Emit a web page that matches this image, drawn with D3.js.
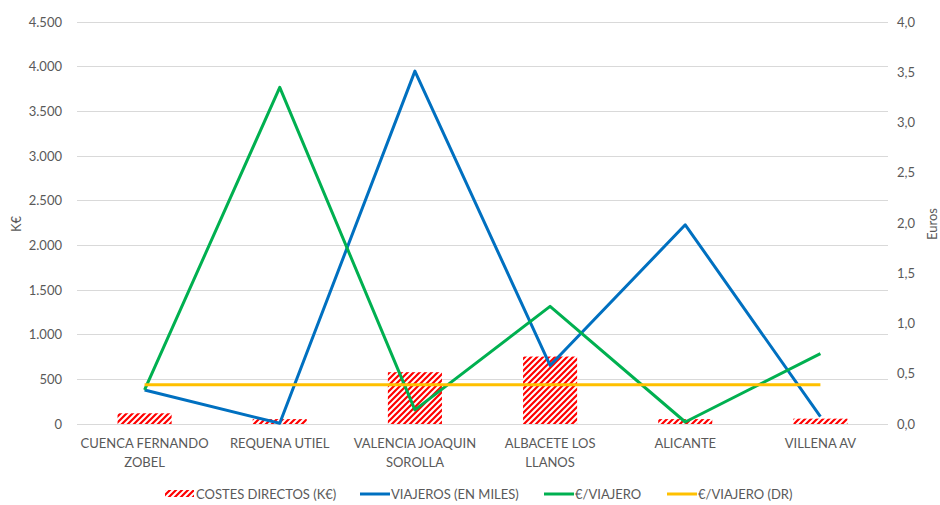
<!DOCTYPE html>
<html>
<head>
<meta charset="utf-8">
<script src="https://cdn.jsdelivr.net/npm/d3@7"></script>
<style>
  html, body { margin: 0; padding: 0; background: #fff; }
  svg text { font-family: "Lato", "Liberation Sans", sans-serif; fill: #595959; }
</style>
</head>
<body>
<svg id="chart" width="940" height="505"></svg>
<script>
// Stations (two-line category labels)
const categories = ["CUENCA FERNANDO ZOBEL", "REQUENA UTIEL", "VALENCIA JOAQUIN SOROLLA", "ALBACETE LOS LLANOS", "ALICANTE", "VILLENA AV"];
const categoryLines = [["CUENCA FERNANDO", "ZOBEL"], ["REQUENA UTIEL"], ["VALENCIA JOAQUIN", "SOROLLA"], ["ALBACETE LOS", "LLANOS"], ["ALICANTE"], ["VILLENA AV"]];

// Primary axis (K€)
const costesDirectos = [120, 55, 580, 755, 55, 60];
const viajeros = [380, 8, 3950, 655, 2230, 82];
// Secondary axis (Euros)
const euroViajero = [0.34, 3.35, 0.14, 1.17, 0.02, 0.70];
const euroViajeroDR = [0.39, 0.39, 0.39, 0.39, 0.39, 0.39];

const leftTicks = [0, 500, 1000, 1500, 2000, 2500, 3000, 3500, 4000, 4500];
const rightTicks = [0, 0.5, 1.0, 1.5, 2.0, 2.5, 3.0, 3.5, 4.0];

const seriesNames = ["COSTES DIRECTOS (K€)", "VIAJEROS (EN MILES)", "€/VIAJERO", "€/VIAJERO (DR)"];
const colors = { bar: "#ff0000", viajeros: "#0070c0", euro: "#00b050", dr: "#ffc000" };

const svg = d3.select("#chart");
const plot = { left: 77, right: 888, top: 22, bottom: 424 };

const x = d3.scaleBand().domain(categories).range([plot.left, plot.right]).paddingInner(0.6).paddingOuter(0.3);
const xc = d => x(d) + x.bandwidth() / 2;
const yL = d3.scaleLinear().domain([0, 4500]).range([plot.bottom, plot.top]);
const yR = d3.scaleLinear().domain([0, 4]).range([plot.bottom, plot.top]);

// Hatch pattern for the cost bars
const defs = svg.append("defs");
const pat = defs.append("pattern").attr("id", "hatch")
  .attr("patternUnits", "userSpaceOnUse").attr("width", 6).attr("height", 6);
pat.append("rect").attr("width", 6).attr("height", 6).attr("fill", "#fff");
pat.append("path").attr("d", "M-1,1 l2,-2 M0,6 l6,-6 M5,7 l2,-2")
  .attr("stroke", colors.bar).attr("stroke-width", 2.2);

// Gridlines
svg.append("g").selectAll("line").data(leftTicks).join("line")
  .attr("x1", plot.left).attr("x2", plot.right)
  .attr("y1", d => yL(d)).attr("y2", d => yL(d))
  .attr("stroke", "#d9d9d9").attr("stroke-width", 1).attr("shape-rendering", "crispEdges");

// Left axis
const fmtL = d3.formatLocale({ decimal: ",", thousands: ".", grouping: [3], currency: ["", "€"] });
const leftAxis = d3.axisLeft(yL).tickValues(leftTicks).tickFormat(fmtL.format(",.0f")).tickSize(0).tickPadding(15);
const gL = svg.append("g").attr("transform", `translate(${plot.left},0)`).call(leftAxis);
gL.select(".domain").remove();
gL.selectAll("text").attr("font-size", 13).style("fill", "#595959");

// Right axis
const rightAxis = d3.axisRight(yR).tickValues(rightTicks).tickFormat(fmtL.format(",.1f")).tickSize(0).tickPadding(9);
const gR = svg.append("g").attr("transform", `translate(${plot.right},0)`).call(rightAxis);
gR.select(".domain").remove();
gR.selectAll("text").attr("font-size", 13).style("fill", "#595959");

// Category labels
const gx = svg.append("g");
categories.forEach((c, i) => {
  const t = gx.append("text").attr("x", xc(c)).attr("y", 448).attr("text-anchor", "middle").attr("font-size", 13);
  categoryLines[i].forEach((ln, j) => t.append("tspan").attr("x", xc(c)).attr("dy", j === 0 ? 0 : 19).text(ln));
});

// Axis titles
svg.append("text").attr("transform", "translate(21,224) rotate(-90)").attr("text-anchor", "middle")
  .attr("font-size", 13).text("K€");
svg.append("text").attr("transform", "translate(937,224) rotate(-90)").attr("text-anchor", "middle")
  .attr("font-size", 13).text("Euros");

// Bars
svg.append("g").selectAll("rect").data(costesDirectos).join("rect")
  .attr("x", (d, i) => x(categories[i])).attr("width", x.bandwidth())
  .attr("y", d => yL(d)).attr("height", d => yL(0) - yL(d))
  .attr("fill", "url(#hatch)");

// Lines
function drawLine(values, scale, color) {
  const line = d3.line().x((d, i) => xc(categories[i])).y(d => scale(d));
  svg.append("path").datum(values).attr("d", line)
    .attr("fill", "none").attr("stroke", color).attr("stroke-width", 3).attr("stroke-linejoin", "round");
}
drawLine(viajeros, yL, colors.viajeros);
drawLine(euroViajero, yR, colors.euro);
drawLine(euroViajeroDR, yR, colors.dr);

// Legend: one symbol plus label per series
const legend = svg.append("g");
const legendX = [165, 360, 544, 667];
const ly = 494;
seriesNames.forEach((name, i) => {
  const lx = legendX[i];
  if (i === 0) {
    legend.append("rect").attr("x", lx).attr("y", ly - 4).attr("width", 29).attr("height", 7).attr("fill", "url(#hatch)");
  } else {
    const col = [null, colors.viajeros, colors.euro, colors.dr][i];
    legend.append("line").attr("x1", lx).attr("x2", lx + 30).attr("y1", ly).attr("y2", ly)
      .attr("stroke", col).attr("stroke-width", 3);
  }
  legend.append("text").attr("x", lx + 31).attr("y", ly + 4.5).attr("font-size", 13).text(name);
});
</script>
</body>
</html>
